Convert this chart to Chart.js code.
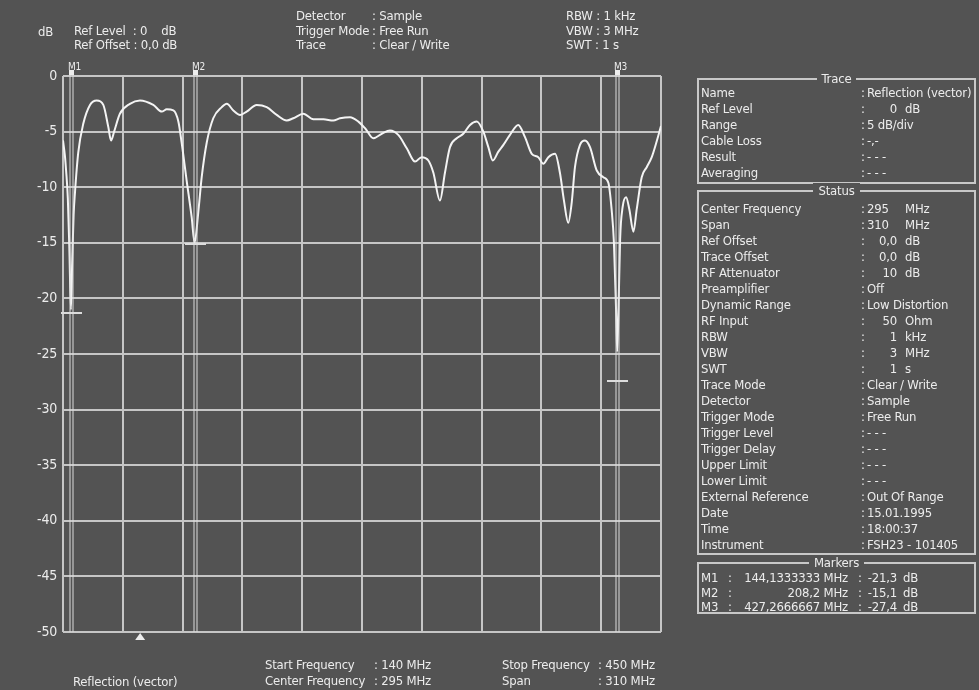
<!DOCTYPE html>
<html>
<head>
<meta charset="utf-8">
<script src="https://cdn.jsdelivr.net/npm/chart.js@4.4.1/dist/chart.umd.min.js"></script>
<style>
    body {
        margin: 0;
        width: 979px;
        height: 690px;
        overflow: hidden;
        position: relative;
        background: #535353;
        color: #ececec;
        font-family: "Liberation Sans Narrow", "DejaVu Sans Condensed", "Liberation Sans", sans-serif;
        font-size: 13px;
        letter-spacing: -0.2px;
    }
    #chart { position: absolute; left: 0; top: 0; }
    .t { position: absolute; white-space: pre; line-height: 16px; }
    .box {
        position: absolute;
        left: 697px;
        width: 279px;
        border: 2px solid #c8c8c8;
        box-sizing: border-box;
    }
    .title {
        position: absolute;
        top: -9px;
        left: 0;
        right: 0;
        text-align: center;
        line-height: 16px;
    }
    .title span { background: #535353; padding: 0 5px; }
</style>
</head>
<body>
<canvas id="chart" width="979" height="690"></canvas>
<div id="text"></div>

<script>
// Trace data: frequency (MHz) and level (dB)
const traceFreq = [
    140.0, 141.0, 141.6, 142.5, 143.3, 144.1, 144.8, 145.5, 146.2, 147.9,
    150.5, 154.0, 157.5, 160.9, 163.5, 164.9, 166.5, 169.5, 174.7, 179.9,
    186.8, 191.2, 193.8, 197.2, 199.8, 201.5, 204.1, 206.7, 208.2, 210.1,
    211.9, 214.5, 217.9, 222.3, 224.9, 228.3, 231.8, 235.2, 240.4, 245.6,
    250.8, 256.0, 259.4, 264.6, 269.8, 275.0, 280.1, 283.6, 288.8, 293.1,
    296.6, 300.9, 305.2, 309.5, 313.8, 318.2, 322.5, 325.9, 329.4, 332.0,
    335.4, 338.0, 340.6, 344.1, 347.5, 351.0, 354.5, 357.9, 360.5, 362.8,
    365.7, 368.3, 371.7, 376.0, 379.5, 383.0, 386.4, 389.0, 391.6, 395.1,
    397.6, 399.7, 401.9, 403.7, 405.4, 408.0, 410.6, 413.2, 416.7, 420.1,
    422.7, 424.4, 425.6, 426.7, 427.3, 428.1, 428.8, 430.1, 431.9, 433.6,
    435.7, 437.4, 440.0, 442.6, 445.2, 447.4, 450.0
];
const traceLevel = [
    -5.8, -7.2, -8.5, -11.0, -15.5, -21.0, -16.5, -12.5, -10.5, -6.9,
    -4.3, -2.6, -2.2, -2.6, -4.6, -5.8, -5.0, -3.4, -2.5, -2.2,
    -2.6, -3.2, -3.0, -3.1, -4.1, -6.0, -9.4, -12.7, -15.0, -12.3,
    -9.1, -6.0, -3.8, -2.8, -2.5, -3.1, -3.5, -3.2, -2.6, -2.8,
    -3.5, -4.0, -3.8, -3.4, -3.9, -3.9, -4.0, -3.8, -3.7, -4.1,
    -4.7, -5.6, -5.2, -4.9, -5.3, -6.5, -7.7, -7.3, -7.6, -8.7,
    -11.2, -8.7, -6.4, -5.6, -5.2, -4.4, -4.1, -5.0, -6.4, -7.6,
    -6.8, -6.2, -5.3, -4.4, -5.5, -7.0, -7.3, -7.9, -7.3, -7.0,
    -8.7, -11.2, -13.2, -11.4, -8.2, -6.2, -5.8, -6.4, -8.5, -9.1,
    -9.6, -12.0, -15.0, -21.0, -24.8, -20.0, -14.7, -11.8, -10.9, -12.0,
    -14.0, -12.0, -9.1, -8.2, -7.3, -6.1, -4.5
];

// Axis settings
const startFreq = 140;
const stopFreq = 450;
const freqStep = 31;
const refLevel = 0;
const bottomLevel = -50;
const levelStep = 5;

// Markers
const markerNames = ['M1', 'M2', 'M3'];
const markerFreqs = [144.1333333, 208.2, 427.2666667];
const markerLevels = [-21.3, -15.1, -27.4];
const markerFreqText = ['144,1333333 MHz', '208,2 MHz', '427,2666667 MHz'];
const markerLevelText = ['-21,3', '-15,1', '-27,4'];
const triangleFreq = 180;

const GRID = '#c6c6c6';
const TEXT = '#ececec';

// Marker lines, level ticks and the small triangle
const markerPlugin = {
    id: 'markerPlugin',
    afterDatasetsDraw(chart) {
        const { ctx, chartArea, scales: { x, y } } = chart;
        ctx.save();
        ctx.strokeStyle = '#dcdcdc';
        ctx.fillStyle = TEXT;
        markerFreqs.forEach((f, i) => {
            const px = Math.round(x.getPixelForValue(f));
            ctx.lineWidth = 1;
            ctx.beginPath();
            ctx.moveTo(px - 1, chartArea.top - 4);
            ctx.lineTo(px - 1, chartArea.bottom);
            ctx.moveTo(px + 2, chartArea.top - 4);
            ctx.lineTo(px + 2, chartArea.bottom);
            ctx.stroke();
            ctx.fillRect(px - 2, chartArea.top - 6, 5, 5);

            const py = Math.round(y.getPixelForValue(markerLevels[i]));
            ctx.lineWidth = 2;
            ctx.beginPath();
            ctx.moveTo(px - 10, py);
            ctx.lineTo(px + 11, py);
            ctx.stroke();

            ctx.font = '10px "Liberation Sans Narrow", "DejaVu Sans Condensed", sans-serif';
            ctx.textBaseline = 'alphabetic';
            ctx.fillText(markerNames[i], px - 3, chartArea.top - 6);
        });

        const tx = x.getPixelForValue(triangleFreq);
        const ty = chartArea.bottom + 1;
        ctx.beginPath();
        ctx.moveTo(tx, ty);
        ctx.lineTo(tx - 5, ty + 7);
        ctx.lineTo(tx + 5, ty + 7);
        ctx.closePath();
        ctx.fill();
        ctx.restore();
    }
};

function initializeChart() {
    const ctx = document.getElementById('chart').getContext('2d');
    new Chart(ctx, {
        type: 'line',
        data: {
            datasets: [{
                label: 'Reflection (vector)',
                data: traceFreq.map((f, i) => ({ x: f, y: traceLevel[i] })),
                borderColor: '#f4f4f4',
                borderWidth: 2,
                pointRadius: 0,
                cubicInterpolationMode: 'monotone',
                fill: false
            }]
        },
        options: {
            responsive: false,
            animation: false,
            layout: {
                padding: { top: 76, right: 318, bottom: 58, left: 0 }
            },
            plugins: {
                legend: { display: false },
                tooltip: { enabled: false }
            },
            scales: {
                x: {
                    type: 'linear',
                    min: startFreq,
                    max: stopFreq,
                    ticks: { stepSize: freqStep, display: false },
                    grid: { color: GRID, lineWidth: 2, drawTicks: false },
                    border: { display: false },
                    afterFit: (scale) => { scale.height = 0; }
                },
                y: {
                    min: bottomLevel,
                    max: refLevel,
                    ticks: {
                        stepSize: levelStep,
                        color: TEXT,
                        padding: 6,
                        font: { family: '"Liberation Sans Narrow", "DejaVu Sans Condensed", sans-serif', size: 14 }
                    },
                    grid: { color: GRID, lineWidth: 2, drawTicks: false },
                    border: { display: false },
                    afterFit: (scale) => { scale.width = 63; }
                }
            }
        },
        plugins: [markerPlugin]
    });
}

// Text helpers
const layer = document.getElementById('text');

function addText(str, x, y, right) {
    const el = document.createElement('div');
    el.className = 't';
    el.textContent = str;
    el.style.top = (y - 8) + 'px';
    if (right) {
        el.style.right = (979 - x) + 'px';
    } else {
        el.style.left = x + 'px';
    }
    layer.appendChild(el);
}

function addBox(title, top, height) {
    const box = document.createElement('div');
    box.className = 'box';
    box.style.top = top + 'px';
    box.style.height = height + 'px';
    box.innerHTML = '<div class="title"><span>' + title + '</span></div>';
    layer.appendChild(box);
}

function addRow(row, y) {
    const [label, value, unit, rightAlign] = row;
    addText(label, 701, y);
    addText(':', 861, y);
    if (rightAlign) {
        addText(value, 897, y, true);
    } else {
        addText(value, 867, y);
    }
    if (unit) addText(unit, 905, y);
}

function initializeText() {
    // header
    addText('dB', 38, 32);
    addText('Ref Level  : 0    dB', 74, 31);
    addText('Ref Offset : 0,0 dB', 74, 45);
    addText('Detector', 296, 16);
    addText(': Sample', 372, 16);
    addText('Trigger Mode', 296, 31);
    addText(': Free Run', 372, 31);
    addText('Trace', 296, 45);
    addText(': Clear / Write', 372, 45);
    addText('RBW : 1 kHz', 566, 16);
    addText('VBW : 3 MHz', 566, 31);
    addText('SWT : 1 s', 566, 45);

    // footer
    addText('Reflection (vector)', 73, 682);
    addText('Start Frequency', 265, 665);
    addText(': 140 MHz', 374, 665);
    addText('Center Frequency', 265, 681);
    addText(': 295 MHz', 374, 681);
    addText('Stop Frequency', 502, 665);
    addText(': 450 MHz', 598, 665);
    addText('Span', 502, 681);
    addText(': 310 MHz', 598, 681);

    // Trace box
    addBox('Trace', 78, 106);
    const traceRows = [
        ['Name', 'Reflection (vector)', '', false],
        ['Ref Level', '0', 'dB', true],
        ['Range', '5 dB/div', '', false],
        ['Cable Loss', '-,-', '', false],
        ['Result', '- - -', '', false],
        ['Averaging', '- - -', '', false]
    ];
    traceRows.forEach((row, i) => addRow(row, 93 + i * 16));

    // Status box
    addBox('Status', 190, 365);
    const statusRows = [
        ['Center Frequency', '295', 'MHz', false],
        ['Span', '310', 'MHz', false],
        ['Ref Offset', '0,0', 'dB', true],
        ['Trace Offset', '0,0', 'dB', true],
        ['RF Attenuator', '10', 'dB', true],
        ['Preamplifier', 'Off', '', false],
        ['Dynamic Range', 'Low Distortion', '', false],
        ['RF Input', '50', 'Ohm', true],
        ['RBW', '1', 'kHz', true],
        ['VBW', '3', 'MHz', true],
        ['SWT', '1', 's', true],
        ['Trace Mode', 'Clear / Write', '', false],
        ['Detector', 'Sample', '', false],
        ['Trigger Mode', 'Free Run', '', false],
        ['Trigger Level', '- - -', '', false],
        ['Trigger Delay', '- - -', '', false],
        ['Upper Limit', '- - -', '', false],
        ['Lower Limit', '- - -', '', false],
        ['External Reference', 'Out Of Range', '', false],
        ['Date', '15.01.1995', '', false],
        ['Time', '18:00:37', '', false],
        ['Instrument', 'FSH23 - 101405', '', false]
    ];
    statusRows.forEach((row, i) => addRow(row, 209 + i * 16));

    // Markers box
    addBox('Markers', 562, 52);
    markerNames.forEach((name, i) => {
        const y = 578 + i * 14.5;
        addText(name, 701, y);
        addText(':', 728, y);
        addText(markerFreqText[i], 848, y, true);
        addText(':', 858, y);
        addText(markerLevelText[i], 897, y, true);
        addText('dB', 903, y);
    });
}

document.addEventListener('DOMContentLoaded', () => {
    initializeChart();
    initializeText();
});
</script>
</body>
</html>
